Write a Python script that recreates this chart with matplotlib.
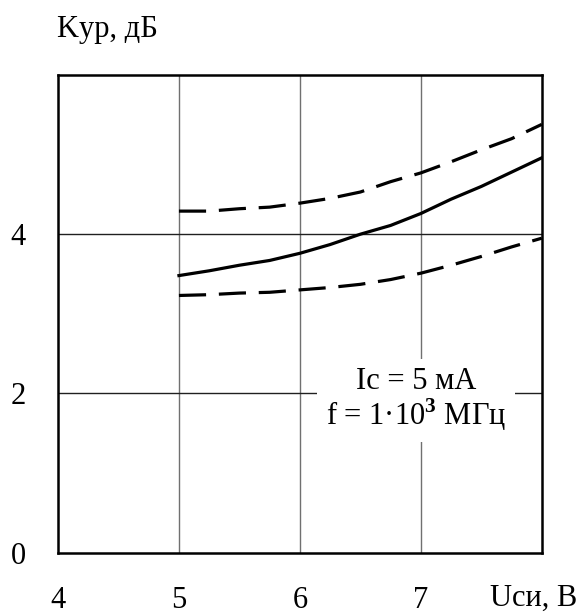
import matplotlib
matplotlib.use("Agg")
import matplotlib.pyplot as plt

plt.rcParams['font.family'] = ['Liberation Serif', 'DejaVu Serif']
plt.rcParams['mathtext.fontset'] = 'custom'
plt.rcParams['mathtext.rm'] = 'Liberation Serif'
plt.rcParams['mathtext.bf'] = 'Liberation Serif:bold'

# drain-source voltage, V
u_si = [5.0, 5.25, 5.5, 5.75, 6.0, 6.25, 6.5, 6.75, 7.0, 7.25, 7.5, 7.75, 8.0]
# gain, dB: typical curve and upper / lower spread
k_typ = [3.48, 3.54, 3.61, 3.67, 3.76, 3.87, 4.00, 4.11, 4.26, 4.44, 4.60, 4.78, 4.96]
k_max = [4.29, 4.29, 4.32, 4.34, 4.39, 4.45, 4.53, 4.66, 4.77, 4.91, 5.06, 5.20, 5.38]
k_min = [3.23, 3.24, 3.26, 3.27, 3.30, 3.33, 3.37, 3.43, 3.51, 3.61, 3.72, 3.84, 3.95]

x_ticks = [4, 5, 6, 7]
y_ticks = [0, 2, 4]

fs = 22

fig = plt.figure(figsize=(5.77, 6.15), dpi=100)
ax = fig.add_axes([0.1005, 0.1016, 0.8385, 0.7764])

ax.set_xlim(4, 8)
ax.set_ylim(0, 6)
ax.set_xticks(x_ticks)
ax.set_yticks(y_ticks)
ax.tick_params(length=0, labelsize=fs)
ax.tick_params(axis='x', pad=24)
ax.tick_params(axis='y', pad=23)

for x in [5, 6, 7]:
    ax.axvline(x, color='#707070', lw=1.0, zorder=1)
for y in [2, 4]:
    ax.axhline(y, color='#202020', lw=1.0, zorder=1)

for sp in ax.spines.values():
    sp.set_linewidth(1.8)

ax.plot(u_si, k_typ, color='black', lw=2.3, zorder=3)
ax.plot(u_si, k_max, color='black', lw=2.3, dashes=(8.5, 4), zorder=3)
ax.plot(u_si, k_min, color='black', lw=2.3, dashes=(8.5, 4), zorder=3)

ax.text(6.96, 1.92, 'Ic = 5 мА\nf = 1·10$^{\\mathbf{3}}$ МГц', fontsize=fs,
        ha='center', va='center', linespacing=1.0, zorder=4,
        bbox=dict(boxstyle='square,pad=0.3', fc='white', ec='none'))

fig.text(57 / 577, 1 - 30 / 615, 'Kур, дБ', fontsize=fs, ha='left', va='center')
fig.text(1.0, 1 - 598 / 615, 'Uси, В', fontsize=fs, ha='right', va='center')

fig.savefig('out.png', dpi=100)
